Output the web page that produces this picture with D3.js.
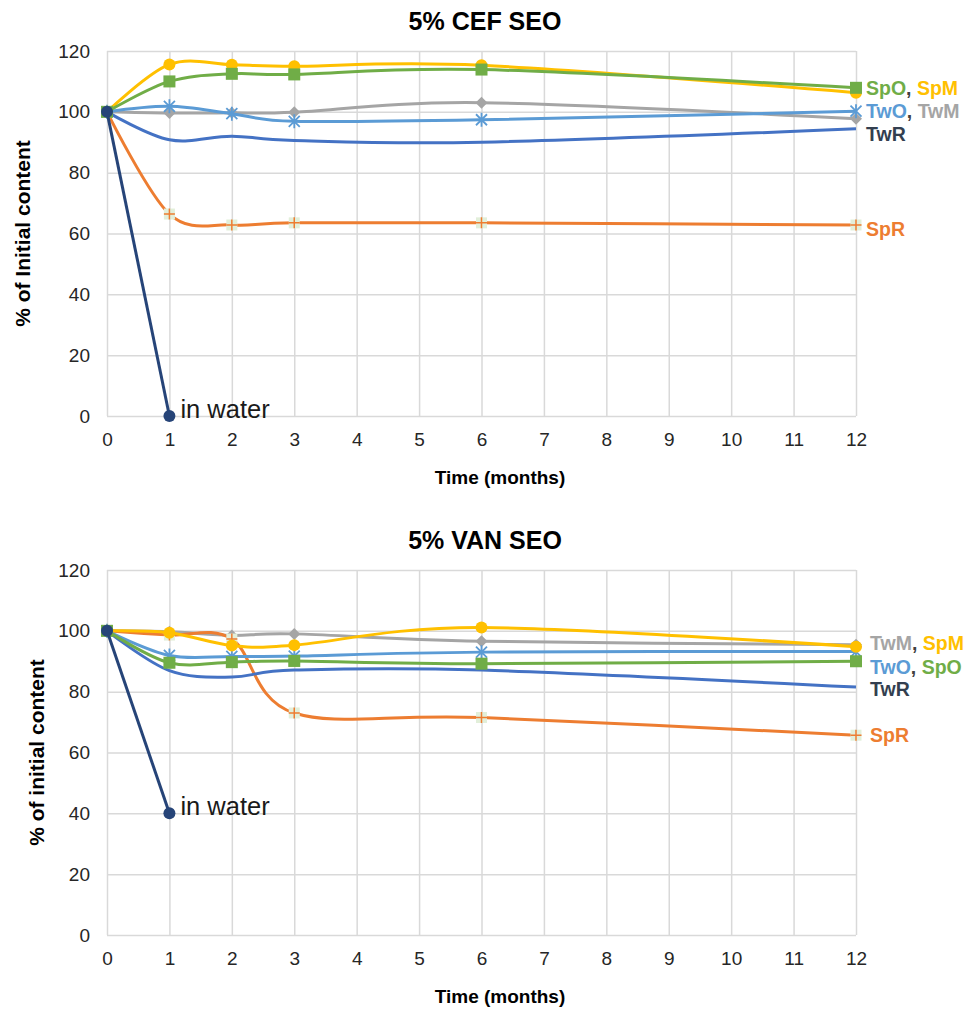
<!DOCTYPE html>
<html>
<head>
<meta charset="utf-8">
<script src="https://cdn.jsdelivr.net/npm/d3@7"></script>
<style>
  body { margin: 0; background: #fff; }
  text { font-family: "Liberation Sans", Arial, sans-serif; }
</style>
</head>
<body>
<svg id="chart" width="965" height="1013"></svg>
<script>
// sampling months and axis ticks
const months = [0, 1, 2, 3, 6, 12];
const waterMonths = [0, 1];
const xTicks = d3.range(0, 13);
const yTicks = [0, 20, 40, 60, 80, 100, 120];

// 5% CEF SEO (% of initial content)
const cefSpO = [100, 110.0, 112.5, 112.3, 113.9, 107.9];
const cefSpM = [100, 115.6, 115.5, 115.0, 115.3, 106.3];
const cefTwO = [100, 101.8, 99.4, 96.9, 97.4, 100.2];
const cefTwM = [100, 99.6, 99.7, 99.9, 103.0, 97.7];
const cefTwR = [100, 90.8, 92.0, 90.6, 90.0, 94.4];
const cefSpR = [100, 66.4, 62.8, 63.5, 63.5, 62.8];
const cefWater = [100, 0];

// 5% VAN SEO
const vanSpO = [100, 89.5, 89.7, 90.1, 89.2, 90.0];
const vanSpM = [100, 99.4, 95.2, 95.3, 101.1, 94.8];
const vanTwO = [100, 91.9, 91.6, 91.7, 93.0, 93.2];
const vanTwM = [100, 99.7, 98.5, 99.0, 96.6, 95.4];
const vanTwR = [100, 86.9, 84.8, 87.1, 87.1, 81.5];
const vanSpR = [100, 98.6, 97.3, 73.0, 71.5, 65.7];
const vanWater = [100, 40];

// end labels: [parts], value where the label sits
const cefLabels = [
  { parts: ["SpO", "SpM"], at: 107.7 },
  { parts: ["TwO", "TwM"], at: 100.2 },
  { parts: ["TwR"], at: 92.5 },
  { parts: ["SpR"], at: 61.3 },
];
const vanLabels = [
  { parts: ["TwM", "SpM"], at: 95.9 },
  { parts: ["TwO", "SpO"], at: 88.1 },
  { parts: ["TwR"], at: 80.8 },
  { parts: ["SpR"], at: 65.8 },
];

const COLORS = {
  SpO: "#70AD47",
  SpM: "#FFC000",
  TwO: "#5B9BD5",
  TwM: "#A5A5A5",
  TwR: "#4472C4",
  SpR: "#ED7D31",
  water: "#264478",
};
const LABEL_COLORS = { ...COLORS, TwR: "#333F50" };
const MARKERS = {
  SpO: "square", SpM: "circle", TwO: "star", TwM: "diamond", TwR: null, SpR: "plus",
};

const svg = d3.select("#chart");
const width = 749;
const height = 365;

function drawMarker(g, type, color, x, y) {
  if (type === "circle") {
    g.append("circle").attr("cx", x).attr("cy", y).attr("r", 6).attr("fill", color);
  } else if (type === "square") {
    g.append("rect").attr("x", x - 6).attr("y", y - 6)
      .attr("width", 12).attr("height", 12).attr("fill", color);
  } else if (type === "diamond") {
    g.append("path")
      .attr("d", `M${x},${y - 6}L${x + 6},${y}L${x},${y + 6}L${x - 6},${y}Z`)
      .attr("fill", color);
  } else if (type === "star") {
    g.append("path")
      .attr("d", `M${x - 5.5},${y - 5.5}L${x + 5.5},${y + 5.5}M${x - 5.5},${y + 5.5}L${x + 5.5},${y - 5.5}M${x},${y - 7}L${x},${y + 7}`)
      .attr("stroke", color).attr("stroke-width", 1.8).attr("fill", "none");
  } else if (type === "plus") {
    g.append("rect").attr("x", x - 5.5).attr("y", y - 5.5)
      .attr("width", 11).attr("height", 11).attr("fill", "#E2EFDA");
    g.append("path")
      .attr("d", `M${x - 5.5},${y}L${x + 5.5},${y}M${x},${y - 5.5}L${x},${y + 5.5}`)
      .attr("stroke", color).attr("stroke-width", 1.5).attr("fill", "none");
  }
}

function drawChart(cfg) {
  const g = svg.append("g").attr("transform", `translate(107,${cfg.top})`);

  const x = d3.scaleLinear().domain([0, 12]).range([0, width]);
  const y = d3.scaleLinear().domain([0, 120]).range([height, 0]);

  // grid
  g.append("g")
    .call(d3.axisLeft(y).tickValues(yTicks).tickSize(-width).tickFormat(""))
    .call((a) => a.select(".domain").remove())
    .selectAll("line").attr("stroke", "#D9D9D9").attr("stroke-width", 1.5);
  g.append("g")
    .attr("transform", `translate(0,${height})`)
    .call(d3.axisBottom(x).tickValues(xTicks).tickSize(-height).tickFormat(""))
    .call((a) => a.select(".domain").remove())
    .selectAll("line").attr("stroke", "#D9D9D9").attr("stroke-width", 1.5);

  // tick labels
  g.append("g")
    .attr("transform", `translate(0,${height})`)
    .call(d3.axisBottom(x).tickValues(xTicks).tickSize(0).tickPadding(0).tickFormat(d3.format("d")))
    .call((a) => a.select(".domain").remove())
    .selectAll("text")
    .attr("y", 30).attr("dy", 0)
    .attr("font-size", 19).attr("fill", "#262626");
  g.append("g")
    .call(d3.axisLeft(y).tickValues(yTicks).tickSize(0).tickPadding(17))
    .call((a) => a.select(".domain").remove())
    .selectAll("text")
    .attr("font-size", 19).attr("fill", "#262626");
  g.selectAll(".tick text").attr("font-family", null);

  const line = d3.line()
    .x((d) => x(d[0]))
    .y((d) => y(d[1]))
    .curve(d3.curveCardinal.tension(0));

  cfg.series.forEach((s) => {
    const pts = months.map((m, i) => [m, s.values[i]]);
    g.append("path").datum(pts)
      .attr("fill", "none")
      .attr("stroke", COLORS[s.name])
      .attr("stroke-width", 3)
      .attr("stroke-linejoin", "round")
      .attr("d", line);
    const type = MARKERS[s.name];
    if (type) {
      const mg = g.append("g");
      pts.forEach((p) => drawMarker(mg, type, COLORS[s.name], x(p[0]), y(p[1])));
    }
  });

  // sample in water
  const wpts = waterMonths.map((m, i) => [m, cfg.water[i]]);
  g.append("path").datum(wpts)
    .attr("fill", "none")
    .attr("stroke", COLORS.water)
    .attr("stroke-width", 3)
    .attr("d", d3.line().x((d) => x(d[0])).y((d) => y(d[1])));
  wpts.forEach((p) => drawMarker(g, "circle", COLORS.water, x(p[0]), y(p[1])));
  g.append("text")
    .attr("x", x(1) + 11)
    .attr("y", y(cfg.water[1]) + 2)
    .attr("font-size", 25.5)
    .attr("fill", "#1a1a1a")
    .text("in water");

  // end labels
  cfg.labels.forEach((l) => {
    const t = g.append("text")
      .attr("x", x(12) + cfg.labelDx)
      .attr("y", y(l.at))
      .attr("dy", "0.35em")
      .attr("font-size", 19.5)
      .attr("font-weight", "bold");
    l.parts.forEach((p, i) => {
      if (i > 0) t.append("tspan").attr("fill", "#404040").text(", ");
      t.append("tspan").attr("fill", LABEL_COLORS[p]).text(p);
    });
  });

  // titles
  svg.append("text")
    .attr("x", 485).attr("y", cfg.top - 21)
    .attr("text-anchor", "middle")
    .attr("font-size", 25).attr("font-weight", "bold")
    .attr("fill", "#000")
    .text(cfg.title);
  svg.append("text")
    .attr("x", 500).attr("y", cfg.top + height + 68)
    .attr("text-anchor", "middle")
    .attr("font-size", 19).attr("font-weight", "bold")
    .attr("fill", "#000")
    .text("Time (months)");
  svg.append("text")
    .attr("transform", `translate(${cfg.yTitleX},${cfg.top + height / 2}) rotate(-90)`)
    .attr("text-anchor", "middle")
    .attr("dy", "0.35em")
    .attr("font-size", 21).attr("font-weight", "bold")
    .attr("fill", "#000")
    .text(cfg.yTitle);
}

drawChart({
  top: 51,
  title: "5% CEF SEO",
  yTitle: "% of Initial content",
  yTitleX: 23,
  labelDx: 10,
  water: cefWater,
  labels: cefLabels,
  series: [
    { name: "TwM", values: cefTwM },
    { name: "SpR", values: cefSpR },
    { name: "TwR", values: cefTwR },
    { name: "TwO", values: cefTwO },
    { name: "SpM", values: cefSpM },
    { name: "SpO", values: cefSpO },
  ],
});

drawChart({
  top: 570,
  title: "5% VAN SEO",
  yTitle: "% of initial content",
  yTitleX: 37,
  labelDx: 14,
  water: vanWater,
  labels: vanLabels,
  series: [
    { name: "TwM", values: vanTwM },
    { name: "SpR", values: vanSpR },
    { name: "TwR", values: vanTwR },
    { name: "TwO", values: vanTwO },
    { name: "SpM", values: vanSpM },
    { name: "SpO", values: vanSpO },
  ],
});
</script>
</body>
</html>
